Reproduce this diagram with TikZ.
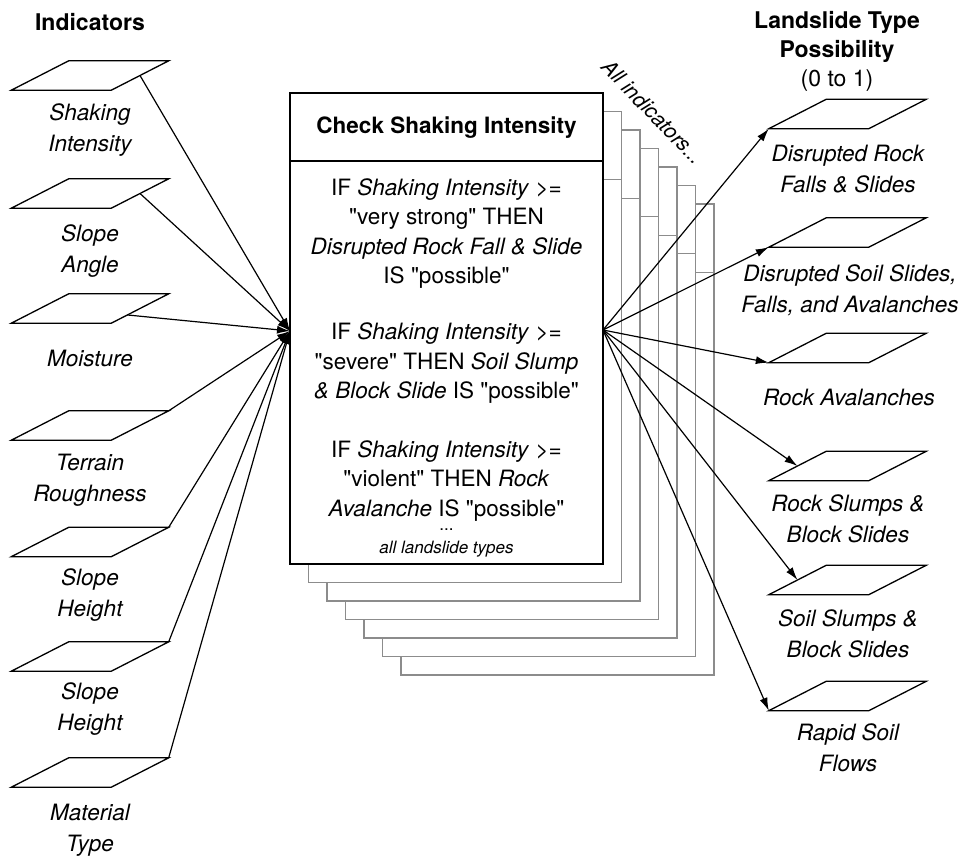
\documentclass[tikz,border=0pt]{standalone}
\usepackage{fontspec}
\setmainfont{TeX Gyre Heros}[Ligatures=TeXOff]
\usetikzlibrary{arrows.meta,calc}
\newcommand\paral[3]{%
  \node[parabox] (#1) at (#2,#3) {};
  \draw[pline] (#1.south west) coordinate (#1-bl) -- ++(100,0) coordinate (#1-br)
    -- (#1.north east) coordinate (#1-tr) -- ++(-100,0) coordinate (#1-tl) -- cycle;}
\begin{document}
\begin{tikzpicture}[x=1pt,y=-1pt,
  parabox/.style={minimum width=157pt, minimum height=29pt, inner sep=0pt},
  pline/.style={line width=1.3pt, line join=miter},
  lbl/.style={align=center, inner sep=0pt, font=\fontsize{22.5}{31}\selectfont\itshape},
  ttl/.style={align=center, inner sep=0pt, font=\fontsize{23}{29}\selectfont},
  mainbox/.style={draw, line width=1.6pt, fill=white, minimum width=313pt, minimum height=471pt, inner sep=0pt},
  pagebox/.style={draw=black!45, line width=1.4pt, fill=white, minimum width=313pt, minimum height=471pt, inner sep=0pt},
  rule/.style={align=center, inner sep=0pt, font=\fontsize{22.5}{29.5}\selectfont},
  arr/.style={line width=1.2pt, -{Latex[length=13pt,width=8pt]}},
]
\useasboundingbox (0,0) rectangle (966,858);

% titles
\node[ttl, font=\fontsize{23}{29}\selectfont\bfseries] (tind) at (90,22) {Indicators};
\node[ttl] (tland) at (837,51) {\textbf{Landslide Type}\\\textbf{Possibility}\\(0 to 1)};

% stacked pages behind
\foreach \k in {6,5,...,1}{
  \node[pagebox] (pg\k) at ({446.5+18.5*\k},{328.5+18.5*\k}) {};
  \draw[draw=black!45, line width=1.4pt] ($(pg\k.north west)+(0,69)$) -- ($(pg\k.north east)+(0,69)$);
}
\node[font=\fontsize{21}{21}\selectfont\itshape, rotate=-46, inner sep=0pt] (allind) at (653,112) {All indicators...};

% main box
\node[mainbox] (main) at (446.5,328.5) {};
\draw[line width=1.6pt] ($(main.north west)+(0,69)$) -- ($(main.north east)+(0,69)$);
\node[rule, font=\fontsize{22.5}{29.5}\selectfont\bfseries] (hdr) at (446.5,128) {Check Shaking Intensity};
\node[rule] (r1) at (446.5,233.5) {IF \textit{Shaking Intensity} >=\\"very strong" THEN\\\textit{Disrupted Rock Fall \& Slide}\\IS "possible"};
\node[rule] (r2) at (446.5,363.5) {IF \textit{Shaking Intensity} >=\\"severe" THEN \textit{Soil Slump}\\\textit{\& Block Slide} IS "possible"};
\node[rule] (r3) at (446.5,481) {IF \textit{Shaking Intensity} >=\\"violent" THEN \textit{Rock}\\\textit{Avalanche} IS "possible"};
\node[rule, font=\fontsize{17}{17}\selectfont] (dots) at (446.5,530) {...};
\node[rule, font=\fontsize{17}{17}\selectfont\itshape] (allt) at (446.5,549) {all landslide types};

\coordinate (inL) at (290,331);
\coordinate (outR) at (603,330);

% left indicators
\paral{si}{90}{75.5}
\paral{sa}{90}{193.5}
\paral{mo}{90}{308.5}
\paral{tr}{90}{425.5}
\paral{sh1}{90}{542}
\paral{sh2}{90}{656.5}
\paral{mt}{90}{772.5}
\node[lbl] (lsi) at (90,130) {Shaking\\Intensity};
\node[lbl] (lsa) at (90,251) {Slope\\Angle};
\node[lbl] (lmo) at (90,358) {Moisture};
\node[lbl] (ltr) at (90,480) {Terrain\\Roughness};
\node[lbl] (lsh1) at (90,595) {Slope\\Height};
\node[lbl] (lsh2) at (90,709) {Slope\\Height};
\node[lbl] (lmt) at (90,830) {Material\\Type};

% right outputs
\paral{dr}{847.5}{114}
\paral{ds}{847.5}{232.5}
\paral{ra}{847.5}{348}
\paral{rs}{847.5}{466}
\paral{ss}{847.5}{580}
\paral{rf}{847.5}{696}
\node[lbl] (ldr) at (848,169) {Disrupted Rock\\Falls \& Slides};
\node[lbl] (lds) at (850,290) {Disrupted Soil Slides,\\Falls, and Avalanches};
\node[lbl] (lra) at (849,397) {Rock Avalanches};
\node[lbl] (lrs) at (848,519) {Rock Slumps \&\\Block Slides};
\node[lbl] (lss) at (848,634) {Soil Slumps \&\\Block Slides};
\node[lbl] (lrf) at (848,748) {Rapid Soil\\Flows};

% connectors in
\draw[arr] ($(si-br)!0.5!(si-tr)$) -- (inL);
\draw[arr] ($(sa-br)!0.5!(sa-tr)$) -- (inL);
\draw[arr] ($(mo-br)!0.28!(mo-tr)$) -- (inL);
\draw[arr] (tr-tr) -- (inL);
\draw[arr] (sh1-tr) -- (inL);
\draw[arr] (sh2-tr) -- (inL);
\draw[arr] (mt-tr) -- (inL);

% connectors out
\draw[arr] (outR) -- (dr-bl);
\draw[arr] (outR) -- (ds-bl);
\draw[arr] (outR) -- (ra-bl);
\draw[arr] (outR) -- ($(rs-bl)!0.5!(rs-tl)$);
\draw[arr] (outR) -- ($(ss-bl)!0.5!(ss-tl)$);
\draw[arr] (outR) -- (rf-bl);
\end{tikzpicture}
\end{document}
